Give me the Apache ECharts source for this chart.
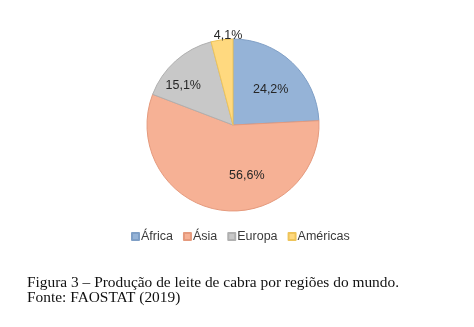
<!DOCTYPE html>
<html>
<head>
<meta charset="utf-8">
<script src="https://cdn.jsdelivr.net/npm/echarts@6/dist/echarts.min.js"></script>
<style>
  html, body { margin: 0; padding: 0; background: #fff; }
  #chart { width: 474px; height: 327px; }
</style>
</head>
<body>
<div id="chart"></div>
<script>
// Goat milk production share by world region (%)
const regions = ['África', 'Ásia', 'Europa', 'Américas'];
const shares = [24.2, 56.6, 15.1, 4.1];
const fills = ['#95b3d7', '#f6b195', '#c8c8c8', '#ffd97f'];
const edges = ['#7f9fc6', '#e59a7d', '#b0b0b0', '#eec45a'];
const labelOffsets = [[6, -2], [21, 5], [-19, -5], [1, -44]];

const captionLines = [
  'Figura 3 – Produção de leite de cabra por regiões do mundo.',
  'Fonte: FAOSTAT (2019)'
];

const chart = echarts.init(document.getElementById('chart'));

chart.setOption({
  animation: false,
  backgroundColor: '#ffffff',
  legend: {
    data: regions,
    left: 126,
    top: 225,
    itemWidth: 7,
    itemHeight: 7,
    itemGap: 10,
    icon: 'rect',
    textStyle: {
      fontFamily: 'Liberation Sans, Arial, sans-serif',
      fontSize: 12.5,
      color: '#3a3a3a',
      padding: [0, 0, 0, -3]
    }
  },
  series: [{
    type: 'pie',
    center: [233, 125],
    radius: [0, 86],
    startAngle: 90,
    clockwise: true,
    label: {
      position: 'inside',
      fontFamily: 'Liberation Sans, Arial, sans-serif',
      fontSize: 12.5,
      color: '#262626',
      formatter: p => p.value.toFixed(1).replace('.', ',') + '%'
    },
    labelLine: { show: false },
    emphasis: { disabled: true },
    data: regions.map((name, i) => ({
      name,
      value: shares[i],
      itemStyle: { color: fills[i], borderColor: edges[i], borderWidth: 1 },
      label: { offset: labelOffsets[i] }
    }))
  }],
  graphic: captionLines.map((text, i) => ({
    type: 'text',
    x: 27,
    y: 276 + i * 15,
    scaleX: 1.1,
    style: {
      text,
      fontFamily: 'Liberation Serif, Times New Roman, serif',
      fontSize: 14,
      fill: '#111111'
    }
  }))
});
</script>
</body>
</html>
